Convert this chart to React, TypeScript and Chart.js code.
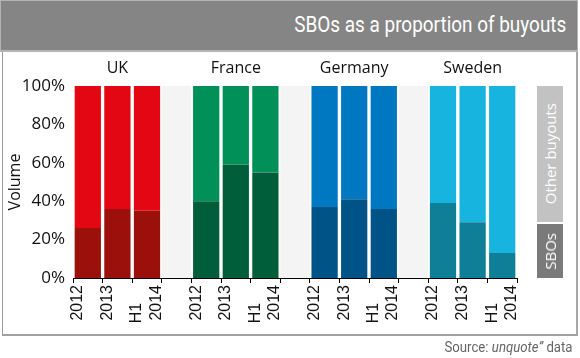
import React, { useEffect, useRef } from "react";
import { Chart, registerables } from "chart.js";

Chart.register(...registerables);

// ---- data ----
const groups = ["UK", "France", "Germany", "Sweden"];
const periodLabels: (string | string[])[] = ["2012", "2013", ["H1    ", "2014"]];
const sboUK = [26, 36, 35];
const sboFrance = [40, 59, 55];
const sboGermany = [37, 41, 36];
const sboSweden = [39, 29, 13];
const otherUK = [74, 64, 65];
const otherFrance = [60, 41, 45];
const otherGermany = [63, 59, 64];
const otherSweden = [61, 71, 87];
const sboColors = ["#9b100b", "#005f3a", "#005386", "#0f7f98"];
const otherColors = ["#e30613", "#009058", "#0077c1", "#17b4e0"];
const yTicks = [0, 20, 40, 60, 80, 100];

const sboAll = [sboUK, sboFrance, sboGermany, sboSweden];
const otherAll = [otherUK, otherFrance, otherGermany, otherSweden];

const xLabels: (string | string[])[] = [];
const topLabels: string[] = [];
const sboData: (number | null)[] = [];
const otherData: (number | null)[] = [];
const sboBg: string[] = [];
const otherBg: string[] = [];
groups.forEach((g, gi) => {
  periodLabels.forEach((p, pi) => {
    xLabels.push(p);
    topLabels.push(pi === 1 ? g : "");
    sboData.push(sboAll[gi][pi]);
    otherData.push(otherAll[gi][pi]);
    sboBg.push(sboColors[gi]);
    otherBg.push(otherColors[gi]);
  });
  if (gi < groups.length - 1) {
    xLabels.push("");
    topLabels.push("");
    sboData.push(null);
    otherData.push(null);
    sboBg.push("#fff");
    otherBg.push("#fff");
  }
});

const plotBg = {
  id: "plotBg",
  beforeDatasetsDraw(chart: any) {
    const { ctx, chartArea } = chart;
    ctx.save();
    ctx.fillStyle = "#f4f4f4";
    ctx.fillRect(chartArea.left, chartArea.top, chartArea.right - chartArea.left, chartArea.bottom - chartArea.top);
    ctx.restore();
  },
};

const sans = "'Open Sans', 'DejaVu Sans', sans-serif";

export default function App() {
  const ref = useRef<HTMLCanvasElement>(null);
  useEffect(() => {
    if (!ref.current) return;
    const bw = { left: 2, right: 2, top: 0, bottom: 0 };
    const chart = new Chart(ref.current, {
      type: "bar",
      data: {
        labels: xLabels,
        datasets: [
          { label: "SBOs", data: sboData, backgroundColor: sboBg, borderColor: "#ffffff", borderWidth: bw, borderSkipped: false, barPercentage: 1, categoryPercentage: 1 },
          { label: "Other buyouts", data: otherData, backgroundColor: otherBg, borderColor: "#ffffff", borderWidth: bw, borderSkipped: false, barPercentage: 1, categoryPercentage: 1 },
        ],
      },
      options: {
        animation: false,
        responsive: false,
        maintainAspectRatio: false,
        layout: { padding: { left: 0, right: 63, top: 0, bottom: 0 } },
        plugins: { legend: { display: false }, tooltip: { enabled: false } },
        scales: {
          x: {
            stacked: true,
            offset: true,
            grid: { display: true, offset: true, drawOnChartArea: false, drawTicks: true, tickLength: 5, color: "#000", lineWidth: 1 },
            border: { display: true, color: "#000", width: 1 },
            ticks: {
              autoSkip: false,
              minRotation: 90,
              maxRotation: 90,
              labelOffset: -10,
              padding: 2,
              color: "#111",
              font: { family: "'Liberation Sans', Arial, sans-serif", size: 16 },
            },
            afterFit: (s: any) => { s.height = 80; },
          },
          x2: {
            type: "category",
            position: "top",
            labels: topLabels,
            offset: true,
            grid: { display: false, drawTicks: false },
            border: { display: false },
            ticks: { autoSkip: false, maxRotation: 0, minRotation: 0, padding: 8, color: "#111", font: { family: sans, size: 16 } },
            afterFit: (s: any) => { s.height = 86; },
          },
          y: {
            stacked: true,
            min: 0,
            max: 100,
            afterBuildTicks: (s: any) => { s.ticks = yTicks.map((v) => ({ value: v })); },
            grid: { display: false, drawTicks: false },
            border: { display: true, color: "#000", width: 1 },
            ticks: { padding: 8, color: "#111", font: { family: sans, size: 17 }, callback: (v: any) => v + "%" },
            title: { display: true, text: "Volume", color: "#111", font: { family: sans, size: 16 }, padding: { top: 6, bottom: 0 } },
            afterFit: (s: any) => { s.width = 73; },
          },
        },
      },
      plugins: [plotBg],
    } as any);
    return () => chart.destroy();
  }, []);

  return (
    <div style={{ position: "fixed", left: 0, top: 0, width: 580, height: 358, background: "#fff", overflow: "hidden" }}>
      <div style={{ position: "absolute", left: 0, top: 0, width: 578, height: 52, boxSizing: "border-box", background: "#858585", border: "1px solid #b4b4b4", borderBottom: "2px solid #b4b4b4" }} />
      <div style={{ position: "absolute", left: 2, top: 52, width: 576, height: 284, boxSizing: "border-box", borderLeft: "1px solid #9a9a9a", borderRight: "2px solid #a8a8a8", borderBottom: "2px solid #a0a0a0" }} />
      <div style={{ position: "absolute", right: 14, top: 10, height: 30, lineHeight: "30px", whiteSpace: "nowrap", color: "#fff", fontFamily: "Roboto, sans-serif", fontSize: 22, transform: "scaleX(0.86)", transformOrigin: "right center" }}>
        SBOs as a proportion of buyouts
      </div>
      <canvas ref={ref} width={580} height={358} style={{ position: "absolute", left: 0, top: 0, width: 580, height: 358 }} />
      <div style={{ position: "absolute", left: 537, top: 86, width: 26, height: 136, background: "#c2c2c2", display: "flex", alignItems: "center", justifyContent: "center" }}>
        <span style={{ writingMode: "vertical-rl", transform: "rotate(180deg)", color: "#fff", fontFamily: sans, fontSize: 15, whiteSpace: "nowrap", lineHeight: "26px" }}>Other buyouts</span>
      </div>
      <div style={{ position: "absolute", left: 537, top: 224, width: 26, height: 54, background: "#7a7a7a", display: "flex", alignItems: "center", justifyContent: "center" }}>
        <span style={{ writingMode: "vertical-rl", transform: "rotate(180deg)", color: "#fff", fontFamily: sans, fontSize: 15, whiteSpace: "nowrap", lineHeight: "26px" }}>SBOs</span>
      </div>
      <div style={{ position: "absolute", right: 7, top: 337, height: 20, lineHeight: "20px", whiteSpace: "nowrap", color: "#666", fontFamily: "Roboto, sans-serif", fontSize: 15, transform: "scaleX(0.88)", transformOrigin: "right center" }}>
        Source: <i>unquote”</i> data
      </div>
    </div>
  );
}
